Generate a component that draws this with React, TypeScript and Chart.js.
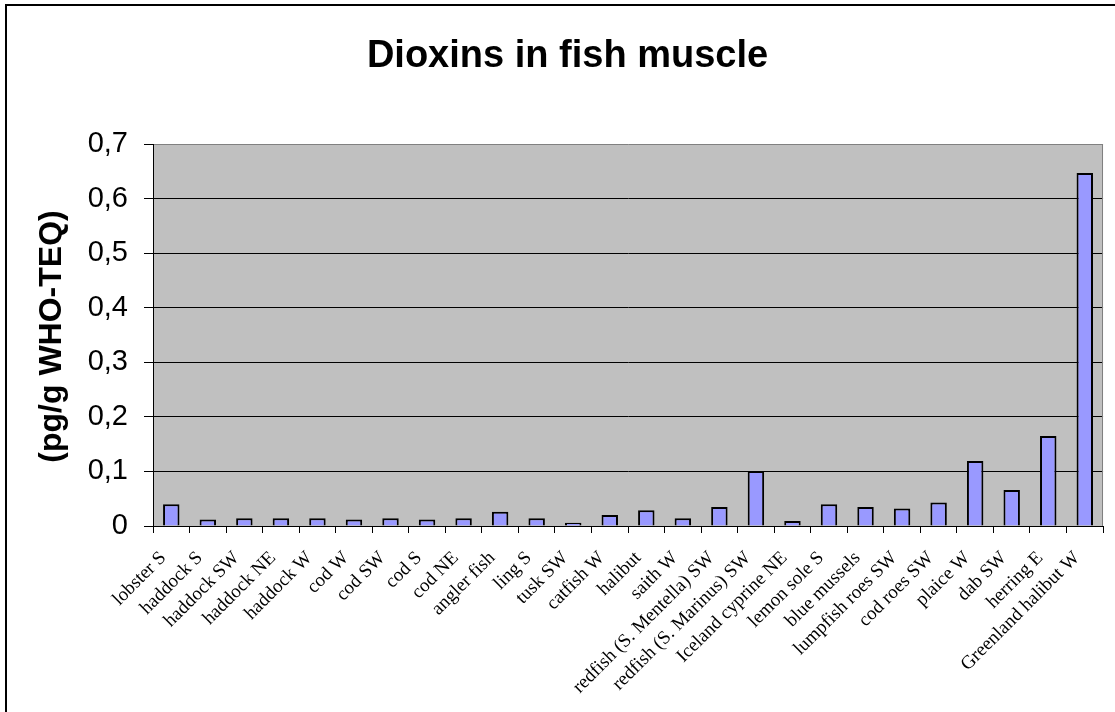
import React, { useEffect, useRef } from "react";
import { Chart, registerables } from "chart.js";

Chart.register(...registerables);

// Sampled species / regions along the category axis
const categories = [
  "lobster S",
  "haddock S",
  "haddock SW",
  "haddock NE",
  "haddock W",
  "cod W",
  "cod SW",
  "cod S",
  "cod NE",
  "angler fish",
  "ling S",
  "tusk SW",
  "catfish W",
  "halibut",
  "saith W",
  "redfish (S. Mentella) SW",
  "redfish (S. Marinus) SW",
  "Iceland cyprine NE",
  "lemon sole S",
  "blue mussels",
  "lumpfish roes SW",
  "cod roes SW",
  "plaice W",
  "dab SW",
  "herring E",
  "Greenland halibut W",
];

// Dioxin level per sample, pg/g WHO-TEQ
const dioxinValues = [
  0.04, 0.012, 0.014, 0.014, 0.014, 0.012, 0.014, 0.012, 0.014, 0.026, 0.014,
  0.006, 0.02, 0.029, 0.014, 0.035, 0.101, 0.009, 0.04, 0.035, 0.032, 0.043,
  0.119, 0.066, 0.165, 0.647,
];

const yTickLabels = ["0", "0,1", "0,2", "0,3", "0,4", "0,5", "0,6", "0,7"];

const chartTitle = "Dioxins in fish muscle";
const yAxisTitle = "(pg/g WHO-TEQ)";

const SANS = "'Liberation Sans', Arial, sans-serif";
const SERIF = "'Liberation Serif', 'Times New Roman', serif";

const framePlugin = {
  id: "frame",
  beforeDraw(chart: Chart) {
    const { ctx, chartArea } = chart;
    ctx.save();
    ctx.fillStyle = "#ffffff";
    ctx.fillRect(0, 0, chart.width, chart.height);
    // outer chart border
    ctx.strokeStyle = "#000000";
    ctx.lineWidth = 2;
    ctx.strokeRect(6, 5, chart.width + 40, chart.height + 40);
    // plot area background
    ctx.fillStyle = "#C0C0C0";
    ctx.fillRect(
      chartArea.left,
      chartArea.top,
      chartArea.right - chartArea.left,
      chartArea.bottom - chartArea.top
    );
    ctx.restore();
  },
  beforeDatasetsDraw(chart: Chart) {
    const { ctx, chartArea } = chart;
    ctx.save();
    ctx.strokeStyle = "#808080";
    ctx.lineWidth = 1;
    ctx.beginPath();
    ctx.moveTo(Math.round(chartArea.right) - 0.5, chartArea.top);
    ctx.lineTo(Math.round(chartArea.right) - 0.5, chartArea.bottom);
    ctx.stroke();
    ctx.restore();
  },
  afterDraw(chart: Chart) {
    const { ctx } = chart;
    ctx.save();
    ctx.fillStyle = "#000000";
    ctx.font = `bold 38px ${SANS}`;
    ctx.textAlign = "center";
    ctx.textBaseline = "alphabetic";
    ctx.fillText(chartTitle, 567.5, 67);

    ctx.font = `bold 32px ${SANS}`;
    ctx.translate(61, 336.5);
    ctx.rotate(-Math.PI / 2);
    ctx.fillText(yAxisTitle, 0, 0);
    ctx.restore();
  },
};

export default function App() {
  const canvasRef = useRef<HTMLCanvasElement | null>(null);

  useEffect(() => {
    const canvas = canvasRef.current;
    if (!canvas) return;
    const chart = new Chart(canvas, {
      type: "bar",
      data: {
        labels: categories,
        datasets: [
          {
            data: dioxinValues,
            backgroundColor: "#9999FF",
            borderColor: "#000000",
            borderWidth: 2,
            borderSkipped: "bottom",
            barPercentage: 0.45,
            categoryPercentage: 1,
          },
        ],
      },
      options: {
        responsive: false,
        animation: false,
        devicePixelRatio: 1,
        layout: { padding: { top: 144, right: 5, left: 0, bottom: 0 } },
        plugins: {
          legend: { display: false },
          title: { display: false },
          tooltip: { enabled: false },
        },
        scales: {
          x: {
            offset: true,
            grid: {
              display: true,
              offset: true,
              drawOnChartArea: false,
              drawTicks: true,
              tickLength: 7,
              color: "#000000",
            },
            border: { display: true, color: "#000000", width: 1 },
            ticks: {
              autoSkip: false,
              minRotation: 45,
              maxRotation: 45,
              padding: 14,
              labelOffset: -8,
              color: "#000000",
              font: { family: SERIF, size: 19 },
            },
            afterFit(scale: any) {
              scale.height = 186;
            },
          },
          y: {
            min: 0,
            max: 0.7,
            grid: {
              color: (ctx: any) =>
                ctx.tick && Math.abs(ctx.tick.value - 0.7) < 1e-6
                  ? "#808080"
                  : "#000000",
              tickColor: "#000000",
              tickLength: 9,
              lineWidth: 1,
            },
            border: { display: true, color: "#000000", width: 1 },
            ticks: {
              stepSize: 0.1,
              padding: 16,
              color: "#000000",
              font: { family: SANS, size: 29 },
              callback: (_v: any, i: number) => yTickLabels[i],
            },
            afterFit(scale: any) {
              scale.width = 153;
            },
          },
        },
      },
      plugins: [framePlugin],
    });
    return () => chart.destroy();
  }, []);

  return (
    <div style={{ position: "fixed", left: 0, top: 0, width: 1115, height: 712 }}>
      <canvas ref={canvasRef} width={1115} height={712} />
    </div>
  );
}
